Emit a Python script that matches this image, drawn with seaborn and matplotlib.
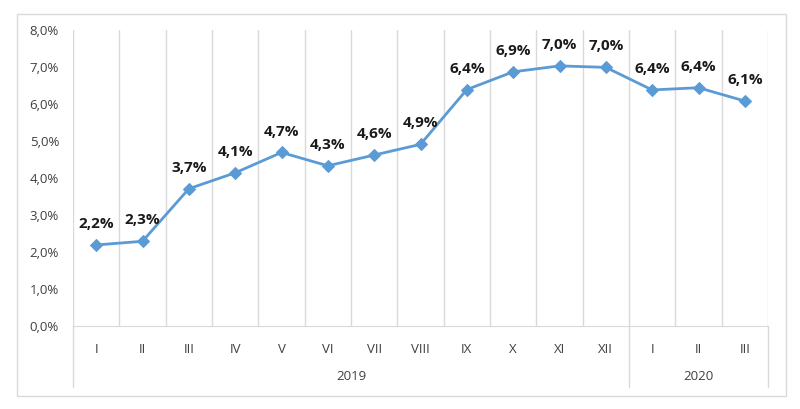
import matplotlib
matplotlib.use('Agg')
import matplotlib.pyplot as plt
import seaborn as sns
import pandas as pd
import numpy as np
from matplotlib.patches import Rectangle

months = ['I', 'II', 'III', 'IV', 'V', 'VI', 'VII', 'VIII', 'IX', 'X', 'XI', 'XII',
          'I', 'II', 'III']
values = [2.19, 2.29, 3.71, 4.14, 4.69, 4.33, 4.62, 4.91, 6.39, 6.87, 7.03, 6.99,
          6.38, 6.44, 6.08]
years = ['2019', '2020']
year_counts = [12, 3]

sns.set_style('white')
plt.rcParams['font.family'] = ['Open Sans', 'DejaVu Sans']

df = pd.DataFrame({'pos': np.arange(len(months)), 'value': values})

fig = plt.figure(figsize=(8, 4.09), dpi=100)
ax = fig.add_axes([73 / 800, 1 - 326 / 409, 695 / 800, 296 / 409])

grey = '#d9d9d9'
blue = '#5b9bd5'

# outer frame like the Excel chart area
fig.patches.append(Rectangle((17 / 800, 1 - 396 / 409), 769 / 800, 382 / 409,
                             transform=fig.transFigure, fill=False,
                             edgecolor=grey, linewidth=1))

sns.lineplot(data=df, x='pos', y='value', ax=ax, color=blue, linewidth=2,
             marker='D', markersize=6, markeredgecolor=blue)

for x, v in zip(df['pos'], df['value']):
    ax.annotate(f'{v:.1f}%'.replace('.', ','), (x, v), xytext=(0, 10),
                textcoords='offset points', ha='center', va='bottom',
                fontsize=11, fontweight='bold', color='#1a1a1a')

ax.set_xlim(-0.5, len(months) - 0.5)
ax.set_ylim(0, 8)
ax.set_yticks(np.arange(0, 9, 1))
ax.set_yticklabels([f'{t:.1f}%'.replace('.', ',') for t in np.arange(0, 9, 1)])
ax.set_xticks(df['pos'])
ax.set_xticklabels(months)
ax.set_xticks(np.arange(-0.5, len(months), 1), minor=True)
ax.grid(False)
ax.grid(True, which='minor', axis='x', color=grey, linewidth=1)
ax.tick_params(axis='both', which='both', length=0)
ax.tick_params(axis='x', pad=12, labelsize=9.5, colors='#404040')
ax.tick_params(axis='y', pad=10, labelsize=9.5, colors='#404040')
ax.set_xlabel('')
ax.set_ylabel('')
for s in ['top', 'left', 'right']:
    ax.spines[s].set_visible(False)
ax.spines['bottom'].set_color(grey)

# group separators and year labels below the axis
trans = ax.get_xaxis_transform()
edges = np.concatenate([[0], np.cumsum(year_counts)]) - 0.5
for e in edges:
    ax.plot([e, e], [0, -0.206], transform=trans, color=grey, linewidth=1,
            clip_on=False)
for i, yr in enumerate(years):
    ax.text((edges[i] + edges[i + 1]) / 2, -0.172, yr, transform=trans,
            ha='center', va='center', fontsize=9.5, color='#404040')

fig.savefig('out.png', dpi=100)
